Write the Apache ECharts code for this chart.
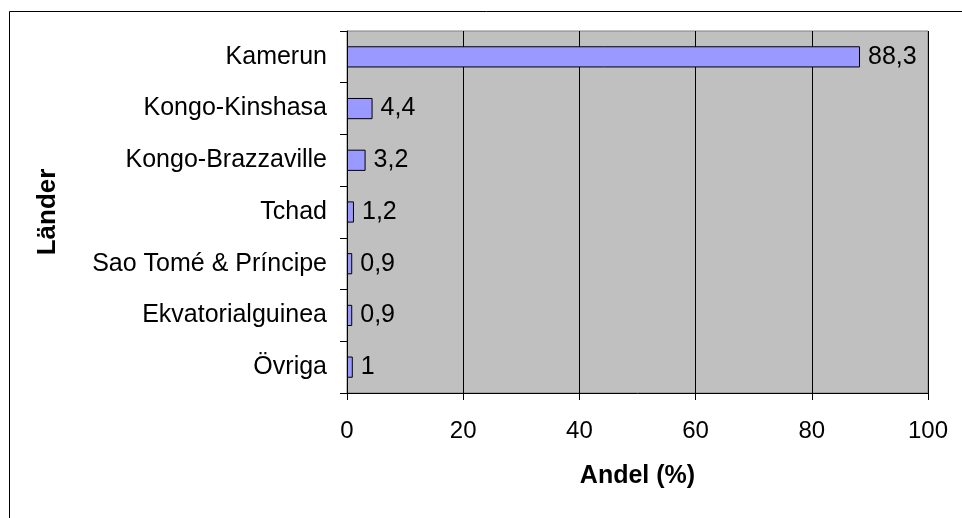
<!DOCTYPE html>
<html>
<head>
<meta charset="utf-8">
<script src="https://cdn.jsdelivr.net/npm/echarts@6/dist/echarts.min.js"></script>
<style>
  html, body { margin: 0; padding: 0; background: #fff; }
  #chart { width: 962px; height: 518px; }
</style>
</head>
<body>
<div id="chart"></div>
<script>
// Andel per land (%)
const countries = ['Kamerun', 'Kongo-Kinshasa', 'Kongo-Brazzaville', 'Tchad', 'Sao Tomé & Príncipe', 'Ekvatorialguinea', 'Övriga']
const shares = [88.3, 4.4, 3.2, 1.2, 0.9, 0.9, 1]
const xTicks = [0, 20, 40, 60, 80, 100]

const font = 'Liberation Sans, Arial, sans-serif'
const chart = echarts.init(document.getElementById('chart'))

chart.setOption({
  animation: false,
  backgroundColor: '#fff',
  textStyle: { fontFamily: font, color: '#000' },
  graphic: [{
    type: 'rect',
    shape: { x: 9.5, y: 11.5, width: 1000, height: 600 },
    style: { fill: 'none', stroke: '#000', lineWidth: 1 },
    z: -10
  }],
  grid: {
    left: 347, top: 31, width: 581, height: 362,
    show: true,
    backgroundColor: '#C0C0C0',
    borderColor: '#808080',
    borderWidth: 1
  },
  xAxis: {
    type: 'value',
    min: xTicks[0],
    max: xTicks[xTicks.length - 1],
    interval: 20,
    name: 'Andel (%)',
    nameLocation: 'middle',
    nameGap: 71,
    nameTextStyle: { fontFamily: font, fontSize: 25, fontWeight: 'bold', color: '#000' },
    axisLine: { show: true, lineStyle: { color: '#000', width: 1 } },
    axisTick: { show: true, length: 7, lineStyle: { color: '#000' } },
    axisLabel: { fontFamily: font, fontSize: 24, color: '#000', margin: 26 },
    splitLine: { show: true, lineStyle: { color: '#000', width: 1 } }
  },
  yAxis: {
    type: 'category',
    data: countries,
    inverse: true,
    name: 'Länder',
    nameLocation: 'middle',
    nameRotate: 90,
    nameGap: 286,
    nameTextStyle: { fontFamily: font, fontSize: 26, fontWeight: 'bold', color: '#000' },
    axisLine: { show: true, lineStyle: { color: '#000', width: 1 } },
    axisTick: { show: true, length: 7, lineStyle: { color: '#000' } },
    axisLabel: { fontFamily: font, fontSize: 25, color: '#000', margin: 20 },
    splitLine: { show: false }
  },
  series: [{
    type: 'bar',
    data: shares,
    barWidth: '41%',
    itemStyle: { color: '#9999FF', borderColor: '#000', borderWidth: 1 },
    label: {
      show: true,
      position: 'right',
      distance: 8,
      fontFamily: font,
      fontSize: 25,
      color: '#000',
      formatter: p => String(p.value).replace('.', ',')
    }
  }]
})
</script>
</body>
</html>
